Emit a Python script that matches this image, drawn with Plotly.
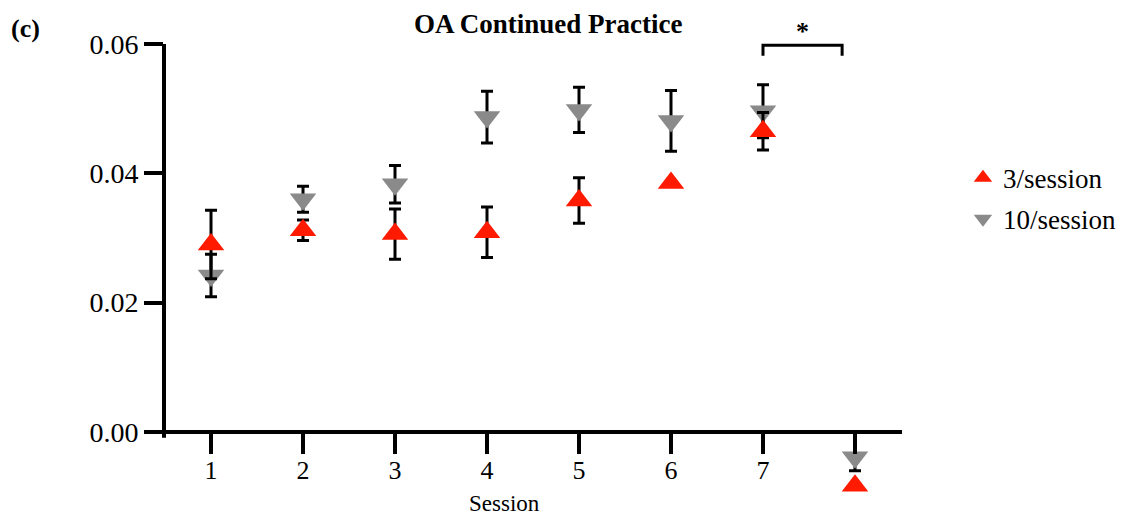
import plotly.graph_objects as go

# ---- data ----
sessions = [1, 2, 3, 4, 5, 6, 7, 8]
tick_labels = ["1", "2", "3", "4", "5", "6", "7", ""]

three_mean = [0.0290, 0.0312, 0.0306, 0.0309, 0.0358, 0.0385, 0.0465, -0.0083]
three_err = [0.0053, 0.0016, 0.0039, 0.0039, 0.0035, 0.0, 0.0029, 0.0]

ten_mean = [0.0242, 0.0360, 0.0383, 0.0487, 0.0498, 0.0481, 0.0496, -0.0039]
ten_err_up = [0.0033, 0.0020, 0.0029, 0.0040, 0.0035, 0.0047, 0.0041, 0.0]
ten_err_down = [0.0033, 0.0020, 0.0029, 0.0040, 0.0035, 0.0047, 0.0041, 0.0021]

y_ticks = [0.0, 0.02, 0.04, 0.06]
y_ticktext = ["0.00", "0.02", "0.04", "0.06"]

sig_from, sig_to = 7, 7.86

# ---- figure ----
FONT = "Liberation Serif"
RED = "#ff1a00"
GRAY = "#8a8a8a"

y_min, y_max = -0.010515, 0.062165
x_min, x_max = 0.489, 8.511

fig = go.Figure()
fig.add_trace(go.Scatter(
    x=sessions, y=ten_mean, mode="markers", name="10/session",
    legendgroup="b", legendrank=2,
    marker=dict(symbol="triangle-down", size=23, color=GRAY),
    error_y=dict(type="data", symmetric=False, array=ten_err_up, arrayminus=ten_err_down,
                 color="black", thickness=3, width=6),
    cliponaxis=False,
))
fig.add_trace(go.Scatter(
    x=sessions, y=three_mean, mode="markers", name="3/session",
    legendgroup="a", legendrank=1,
    marker=dict(symbol="triangle-up", size=23, color=RED),
    error_y=dict(type="data", array=three_err, color="black", thickness=3, width=6),
    cliponaxis=False,
))

fig.update_layout(
    width=1118, height=508,
    margin=dict(l=156, r=224, t=22, b=16, autoexpand=False),
    paper_bgcolor="white", plot_bgcolor="white",
    font=dict(family=FONT, color="black"),
    showlegend=True,
    legend=dict(
        x=1.0826, y=0.737, xanchor="left", yanchor="top",
        font=dict(family=FONT, size=27, color="black"),
        traceorder="grouped", tracegroupgap=3,
        bgcolor="rgba(0,0,0,0)", borderwidth=0,
    ),
    xaxis=dict(
        range=[x_min, x_max], tickmode="array", tickvals=sessions, ticktext=tick_labels,
        showgrid=False, zeroline=False, showline=True, linecolor="black", linewidth=4,
        ticks="outside", ticklen=20, tickwidth=4, tickcolor="black",
        tickfont=dict(family=FONT, size=26, color="black"),
        ticklabelstandoff=-6,
        anchor="free", position=(0 - y_min) / (y_max - y_min),
    ),
    yaxis=dict(
        range=[y_min, y_max], tickmode="array", tickvals=y_ticks, ticktext=y_ticktext,
        showgrid=False, zeroline=False, showline=False,
        ticks="outside", ticklen=19, tickwidth=4, tickcolor="black",
        tickfont=dict(family=FONT, size=28, color="black"),
    ),
)

# y axis line (stops just below zero, like the reference)
fig.add_shape(type="line", xref="paper", yref="y", x0=0, x1=0, y0=-0.0009, y1=0.06,
              line=dict(color="black", width=4))

# significance bracket
fig.add_shape(type="path", xref="x", yref="y",
              path=f"M {sig_from},0.0582 L {sig_from},0.0598 L {sig_to},0.0598 L {sig_to},0.0582",
              line=dict(color="black", width=3))
fig.add_annotation(x=(sig_from + sig_to) / 2, y=0.0619, xref="x", yref="y", text="<b>*</b>",
                   showarrow=False, font=dict(family=FONT, size=26, color="black"),
                   xanchor="center", yanchor="middle")

# title
fig.add_annotation(x=0.5203, y=1.0128, xref="paper", yref="paper",
                   text="<b>OA Continued Practice</b>", showarrow=False,
                   font=dict(family=FONT, size=27, color="black"),
                   xanchor="center", yanchor="middle")
# panel label
fig.add_annotation(x=-0.187, y=1.004, xref="paper", yref="paper",
                   text="<b>(c)</b>", showarrow=False,
                   font=dict(family=FONT, size=26, color="black"),
                   xanchor="center", yanchor="middle")
# x axis title
fig.add_annotation(x=0.462, y=-0.0085, xref="paper", yref="paper",
                   text="Session", showarrow=False,
                   font=dict(family=FONT, size=23, color="black"),
                   xanchor="center", yanchor="middle")

fig.write_html("out.html")
